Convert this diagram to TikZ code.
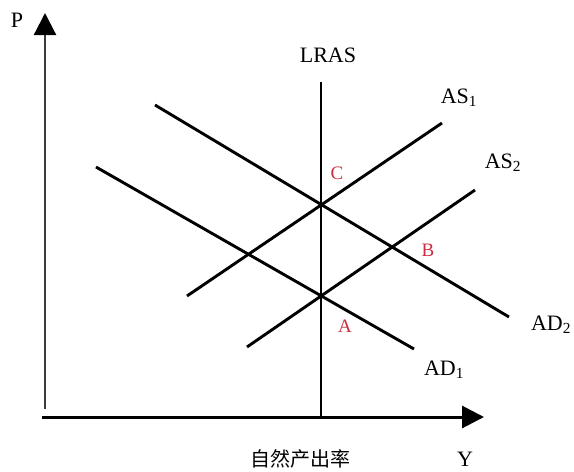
\documentclass[tikz,border=0pt]{standalone}
\usepackage{fontspec}
\setmainfont{Liberation Serif}
\newfontfamily\cjk{Noto Sans CJK SC}
\usetikzlibrary{arrows.meta}
\definecolor{ptred}{RGB}{205,45,65}
\definecolor{axisgray}{RGB}{60,60,60}
\begin{document}
\begin{tikzpicture}[x=1pt,y=-1pt,
  curve/.style={line width=2.9pt,black},
  lbl/.style={inner sep=0pt,font=\fontsize{22}{24}\selectfont},
  ptlbl/.style={inner sep=0pt,text=ptred,font=\fontsize{19}{21}\selectfont},
  tip/.style={-{Triangle[length=22pt,width=22pt,color=black]}}]
\useasboundingbox[fill=white] (0,0) rectangle (574,472);
% axes
\coordinate (yb) at (45,409);
\coordinate (yt) at (45,13);
\coordinate (xl) at (42,417);
\coordinate (xr) at (484,417);
\draw[tip,line width=2.2pt,axisgray] (yb) -- (yt);
\draw[tip,line width=3pt] (xl) -- (xr);
% LRAS
\coordinate (lrb) at (321,417);
\coordinate (lrt) at (321,82);
\draw[curve] (lrb) -- (lrt);
% AS curves
\coordinate (as1a) at (187,296);
\coordinate (as1b) at (442,123);
\coordinate (as2a) at (247,347);
\coordinate (as2b) at (475,190);
\draw[curve] (as1a) -- (as1b);
\draw[curve] (as2a) -- (as2b);
% AD curves
\coordinate (ad1a) at (96,167);
\coordinate (ad1b) at (414,349);
\coordinate (ad2a) at (155,105);
\coordinate (ad2b) at (509,317);
\draw[curve] (ad1a) -- (ad1b);
\draw[curve] (ad2a) -- (ad2b);
% labels
\node[lbl] (P) at (17,20) {P};
\node[lbl] (Y) at (465,459) {Y};
\node[lbl] (lras) at (328,55) {LRAS};
\node[lbl] (as1) at (459,98) {AS\textsubscript{1}};
\node[lbl] (as2) at (503,163) {AS\textsubscript{2}};
\node[lbl] (ad2) at (551,325) {AD\textsubscript{2}};
\node[lbl] (ad1) at (444,370) {AD\textsubscript{1}};
\node[inner sep=0pt,font=\cjk\fontsize{20}{22}\selectfont] (nat) at (300,459) {自然产出率};
\node[ptlbl] (C) at (337,173) {C};
\node[ptlbl] (B) at (428,250) {B};
\node[ptlbl] (A) at (345,326) {A};
\end{tikzpicture}
\end{document}
